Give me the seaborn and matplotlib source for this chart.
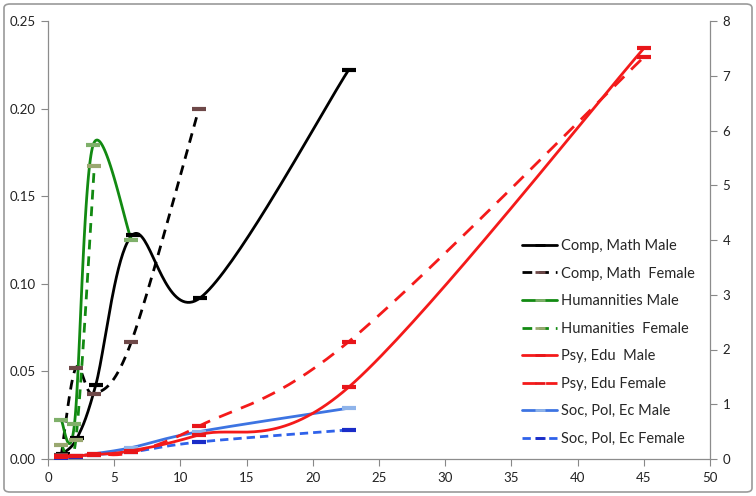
import numpy as np
import pandas as pd
import seaborn as sns
import matplotlib
matplotlib.use('Agg')
import matplotlib.pyplot as plt
from matplotlib.lines import Line2D
from matplotlib.patches import FancyBboxPatch

sns.set_style('white')
plt.rcParams['font.family'] = ['Lato', 'DejaVu Sans']

# data (left axis unless noted)
x_cm_m = [1.1, 2.2, 3.6, 6.4, 11.5, 22.7]
cm_male = [0.003, 0.012, 0.042, 0.128, 0.092, 0.222]
x_cm_f = [1.0, 2.1, 3.5, 6.3, 11.4]
cm_female = [0.002, 0.052, 0.037, 0.067, 0.200]
x_hum_m = [1.0, 2.0, 3.4, 6.3]
hum_male = [0.022, 0.020, 0.179, 0.125]
x_hum_f = [1.0, 2.1, 3.5]
hum_female = [0.008, 0.011, 0.167]
# Psy, Edu on the right axis
x_pe = [1.0, 2.1, 3.5, 6.3, 11.4, 22.7, 45.0]
pe_male = [0.05, 0.06, 0.08, 0.15, 0.44, 1.31, 7.50]
pe_female = [0.03, 0.05, 0.09, 0.12, 0.60, 2.14, 7.34]
x_spe = [1.0, 2.1, 3.5, 6.3, 11.4, 22.7]
spe_male = [0.001, 0.0015, 0.003, 0.0065, 0.0156, 0.029]
spe_female = [0.0005, 0.001, 0.0025, 0.004, 0.0097, 0.0166]

labels = ['Comp, Math Male', 'Comp, Math  Female', 'Humannities Male', 'Humanities  Female',
          'Psy, Edu  Male', 'Psy, Edu Female', 'Soc, Pol, Ec Male', 'Soc, Pol, Ec Female']

# px per data unit, so the smoothing is done in screen space like excel does
SX = 13.27
SY_LEFT = 1752.0
SY_RIGHT = 54.75


def smooth(xs, ys, sx, sy, n=40):
    p = np.column_stack([np.asarray(xs) * sx, np.asarray(ys) * sy])
    p = np.vstack([p[0], p, p[-1]])
    out = []
    t = np.linspace(0, 1, n)[:, None]
    for i in range(1, len(p) - 2):
        p0, p1, p2, p3 = p[i - 1], p[i], p[i + 1], p[i + 2]
        b1 = p1 + (p2 - p0) / 6
        b2 = p2 - (p3 - p1) / 6
        seg = (1 - t) ** 3 * p1 + 3 * (1 - t) ** 2 * t * b1 + 3 * (1 - t) * t ** 2 * b2 + t ** 3 * p2
        out.append(seg if i == 1 else seg[1:])
    c = np.vstack(out)
    return c[:, 0] / sx, c[:, 1] / sy


fig = plt.figure(figsize=(7.56, 4.96), dpi=100)
ax = fig.add_axes([48 / 756, 37 / 496, 662 / 756, 438 / 496])
ax2 = ax.twinx()

series = [
    # x, y, axis, line colour, linestyle, marker colour
    (x_cm_m, cm_male, 'l', '#000000', '-', '#000000'),
    (x_cm_f, cm_female, 'l', '#000000', (0, (3.5, 2.5)), '#6e4848'),
    (x_hum_m, hum_male, 'l', '#128a12', '-', '#7fb06a'),
    (x_hum_f, hum_female, 'l', '#128a12', (0, (3.5, 2.5)), '#9aa870'),
    (x_pe, pe_male, 'r', '#f41a1a', '-', '#e8161a'),
    (x_pe, pe_female, 'r', '#f41a1a', (0, (5, 3.5)), '#e8161a'),
    (x_spe, spe_male, 'l', '#3d74e2', '-', '#8fb4ea'),
    (x_spe, spe_female, 'l', '#2f62ea', (0, (3, 1.8)), '#1a2cc8'),
]

handles = []
for xs, ys, side, lc, ls, mc in series:
    a = ax if side == 'l' else ax2
    sy = SY_LEFT if side == 'l' else SY_RIGHT
    cx, cy = smooth(xs, ys, SX, sy)
    df = pd.DataFrame({'x': cx, 'y': cy})
    sns.lineplot(data=df, x='x', y='y', ax=a, sort=False, estimator=None,
                 color=lc, lw=2, linestyle=ls)
    a.plot(xs, ys, ls='none', marker='_', ms=10, mew=3, color=mc, zorder=4)
    handles.append(Line2D([], [], color=lc, lw=2, linestyle=ls, marker='_', ms=7, mew=2, mec=mc))

ax.set_xlim(0, 50)
ax.set_ylim(0, 0.25)
ax2.set_ylim(0, 8)
ax.set_xticks(np.arange(0, 51, 5))
ax.set_yticks(np.arange(0, 0.26, 0.05))
ax.set_yticklabels(['%.2f' % v for v in np.arange(0, 0.26, 0.05)])
ax2.set_yticks(range(0, 9))
ax.set_xlabel('')
ax.set_ylabel('')
ax2.set_ylabel('')

for a in (ax, ax2):
    a.tick_params(direction='out', length=5, width=0.8, color='#888888', labelsize=9.5,
                  labelcolor='#222222', pad=4)
    for s in a.spines.values():
        s.set_color('#8c8c8c')
        s.set_linewidth(0.9)
    a.spines['top'].set_visible(False)
ax.spines['right'].set_visible(False)
ax2.spines['left'].set_visible(False)
ax2.spines['bottom'].set_visible(False)
ax.tick_params(axis='both', left=True, bottom=True)
ax2.tick_params(axis='y', right=True)

ax2.legend(handles, labels, loc='upper left', bbox_to_anchor=(522 / 756, 1 - 239 / 496),
           bbox_transform=fig.transFigure, frameon=False, fontsize=10.5, labelspacing=0.93,
           handlelength=2.4, handletextpad=0.25, borderaxespad=0, borderpad=0)

# grey rounded border around the whole chart
fig.patches.append(FancyBboxPatch((4 / 756, 4 / 496), 748 / 756, 488 / 496,
                                  boxstyle='round,pad=0,rounding_size=0.008',
                                  transform=fig.transFigure, fill=False,
                                  ec='#9a9a9a', lw=1.2))

fig.savefig('out.png', dpi=100)
